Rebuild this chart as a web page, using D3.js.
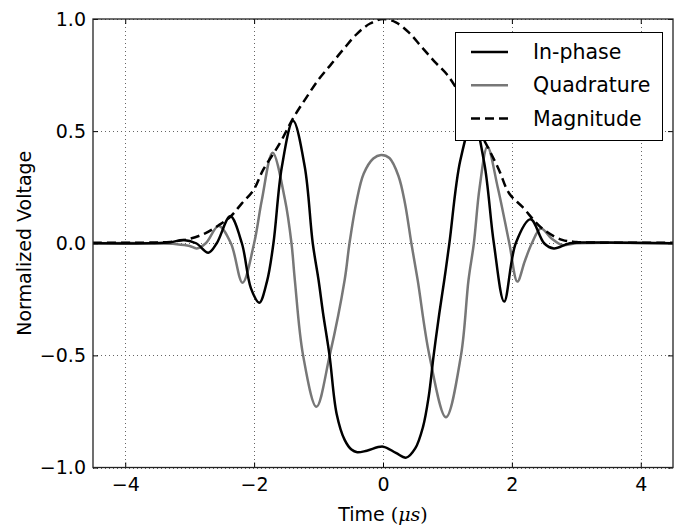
<!DOCTYPE html>
<html>
<head>
<meta charset="utf-8">
<script src="https://cdn.jsdelivr.net/npm/d3@7"></script>
<style>
  body { margin: 0; background: #fff; }
  text { font-family: "DejaVu Sans", sans-serif; fill: #000; }
</style>
</head>
<body>
<div id="chart"></div>
<script>
// values: [time in us, normalized voltage]
var inPhase = [[-4.5,0],[-3.6,0],[-3.3,0.004],[-3.1,0.015],[-2.9,0],[-2.71,-0.042],[-2.58,0],
  [-2.37,0.12],[-2.19,0],[-2.05,-0.2],[-1.92,-0.265],[-1.8,-0.17],[-1.7,0],[-1.57,0.34],
  [-1.395,0.546],[-1.214,0.341],[-1.09,0],[-1.0,-0.164],[-0.93,-0.312],[-0.83,-0.5],
  [-0.72,-0.76],[-0.595,-0.877],[-0.49,-0.92],[-0.4,-0.932],[-0.25,-0.925],[0,-0.907],
  [0.2,-0.935],[0.36,-0.956],[0.5,-0.915],[0.62,-0.82],[0.709,-0.684],[0.786,-0.5],
  [0.874,-0.312],[0.951,-0.164],[1.03,0],[1.2,0.37],[1.4,0.55],[1.57,0.36],[1.72,0],
  [1.88,-0.26],[2.06,0],[2.29,0.107],[2.5,0],[2.65,-0.023],[2.9,0],[3.2,0.003],[4.5,0]];

var quadrature = [[-4.5,0],[-3.6,0],[-3.2,-0.004],[-3.0,-0.012],[-2.89,-0.023],[-2.75,0],
  [-2.55,0.077],[-2.36,0],[-2.18,-0.176],[-2.0,0],[-1.88,0.193],[-1.713,0.404],[-1.52,0.193],
  [-1.42,0],[-1.368,-0.164],[-1.24,-0.5],[-1.033,-0.729],[-0.827,-0.5],[-0.595,-0.164],
  [-0.52,0],[-0.415,0.18],[-0.3,0.31],[-0.15,0.378],[-0.03,0.394],[0.1,0.38],[0.24,0.3],
  [0.34,0.18],[0.44,0],[0.538,-0.164],[0.72,-0.5],[0.977,-0.776],[1.21,-0.5],[1.327,-0.164],
  [1.41,0],[1.5,0.25],[1.62,0.43],[1.78,0.25],[1.96,0],[2.085,-0.171],[2.2,-0.08],[2.31,0],
  [2.45,0.066],[2.62,0.02],[2.78,-0.008],[3.0,0],[4.5,0]];

var magnitude = [[-4.5,0.002],[-3.6,0.003],[-3.3,0.006],[-3.0,0.02],[-2.76,0.044],[-2.55,0.08],
  [-2.37,0.118],[-2.19,0.178],[-2.01,0.237],[-1.86,0.327],[-1.6,0.446],[-1.4,0.555],
  [-1.2,0.645],[-1.0,0.73],[-0.8,0.8],[-0.6,0.87],[-0.4,0.935],[-0.2,0.98],[0,1.0],
  [0.2,0.985],[0.4,0.94],[0.6,0.875],[0.8,0.81],[1.0,0.75],[1.2,0.66],[1.4,0.55],
  [1.65,0.415],[1.8,0.327],[1.956,0.223],[2.16,0.163],[2.47,0.066],[2.78,0.015],
  [3.0,0.006],[3.3,0.003],[4.5,0.002]];

var seriesNames = ["In-phase", "Quadrature", "Magnitude"];
var xTicks = [-4, -2, 0, 2, 4];
var yTicks = [-1.0, -0.5, 0.0, 0.5, 1.0];

(function() {
  var width = 674, height = 527;
  var plotL = 93, plotR = 673, plotT = 19, plotB = 467.5;

  var svg = d3.select("#chart").append("svg")
    .attr("width", width)
    .attr("height", height);

  var x = d3.scaleLinear().domain([-4.5, 4.5]).range([plotL, plotR]);
  var y = d3.scaleLinear().domain([-1, 1]).range([plotB, plotT]);

  svg.append("clipPath").attr("id", "plotclip")
    .append("rect")
    .attr("x", plotL).attr("y", plotT)
    .attr("width", plotR - plotL).attr("height", plotB - plotT);

  // dotted grid
  var grid = svg.append("g").attr("stroke", "#666").attr("stroke-width", 1)
    .attr("stroke-dasharray", "1,3");
  xTicks.forEach(function(t) {
    grid.append("line")
      .attr("x1", Math.round(x(t)) + 0.5).attr("x2", Math.round(x(t)) + 0.5)
      .attr("y1", plotT).attr("y2", plotB);
  });
  yTicks.forEach(function(t) {
    grid.append("line")
      .attr("x1", plotL).attr("x2", plotR)
      .attr("y1", Math.round(y(t)) + 0.5).attr("y2", Math.round(y(t)) + 0.5);
  });

  var line = d3.line()
    .x(function(d) { return x(d[0]); })
    .y(function(d) { return y(d[1]); })
    .curve(d3.curveCatmullRom.alpha(0.5));

  var curves = svg.append("g").attr("clip-path", "url(#plotclip)").attr("fill", "none");

  curves.append("path").datum(quadrature)
    .attr("d", line).attr("stroke", "#777").attr("stroke-width", 2.5);
  curves.append("path").datum(inPhase)
    .attr("d", line).attr("stroke", "#000").attr("stroke-width", 2.5);
  curves.append("path").datum(magnitude)
    .attr("d", line).attr("stroke", "#000").attr("stroke-width", 2.5)
    .attr("stroke-dasharray", "9,5");

  // axes: inward ticks on all four sides
  var tickLen = 5;
  var xAxisB = d3.axisBottom(x).tickValues(xTicks).tickSizeInner(-tickLen).tickSizeOuter(0)
    .tickPadding(10).tickFormat(function(d) { return d < 0 ? "\u2212" + Math.abs(d) : d; });
  var xAxisT = d3.axisTop(x).tickValues(xTicks).tickSizeInner(-tickLen).tickSizeOuter(0)
    .tickFormat("");
  var yAxisL = d3.axisLeft(y).tickValues(yTicks).tickSizeInner(-tickLen).tickSizeOuter(0)
    .tickPadding(7).tickFormat(function(d) {
      var s = Math.abs(d).toFixed(1);
      return d < 0 ? "\u2212" + s : s;
    });
  var yAxisR = d3.axisRight(y).tickValues(yTicks).tickSizeInner(-tickLen).tickSizeOuter(0)
    .tickFormat("");

  function styleAxis(g) {
    g.select(".domain").remove();
    g.selectAll(".tick line").attr("stroke", "#000");
    g.selectAll("text").attr("font-size", 19).attr("font-family", "DejaVu Sans").attr("fill", "#000");
  }

  svg.append("g").attr("transform", "translate(0," + plotB + ")").call(xAxisB).call(styleAxis);
  svg.append("g").attr("transform", "translate(0," + plotT + ")").call(xAxisT).call(styleAxis);
  svg.append("g").attr("transform", "translate(" + plotL + ",0)").call(yAxisL).call(styleAxis);
  svg.append("g").attr("transform", "translate(" + plotR + ",0)").call(yAxisR).call(styleAxis);

  // frame
  svg.append("rect")
    .attr("x", plotL).attr("y", plotT)
    .attr("width", plotR - plotL).attr("height", plotB - plotT)
    .attr("fill", "none").attr("stroke", "#222").attr("stroke-width", 1.3);

  // axis labels
  var xl = svg.append("text")
    .attr("x", (plotL + plotR) / 2).attr("y", 521)
    .attr("text-anchor", "middle").attr("font-size", 19);
  xl.append("tspan").text("Time ");
  xl.append("tspan").attr("font-family", "DejaVu Serif").text("(");
  xl.append("tspan").attr("font-family", "DejaVu Serif").attr("font-style", "italic").text("\u03bcs");
  xl.append("tspan").attr("font-family", "DejaVu Serif").text(")");

  svg.append("text")
    .attr("transform", "translate(31," + ((plotT + plotB) / 2) + ") rotate(-90)")
    .attr("text-anchor", "middle").attr("font-size", 19)
    .text("Normalized Voltage");

  // legend
  var legend = svg.append("g");
  legend.append("rect")
    .attr("x", 455.5).attr("y", 32.5).attr("width", 207).attr("height", 108)
    .attr("fill", "#fff").attr("stroke", "#000").attr("stroke-width", 1);

  var legendStyles = [
    { stroke: "#000", dash: null },
    { stroke: "#777", dash: null },
    { stroke: "#000", dash: "9,5" }
  ];
  seriesNames.forEach(function(name, i) {
    var ly = 52 + i * 33.3;
    legend.append("line")
      .attr("x1", 471).attr("x2", 508).attr("y1", ly).attr("y2", ly)
      .attr("stroke", legendStyles[i].stroke).attr("stroke-width", 2.5)
      .attr("stroke-dasharray", legendStyles[i].dash);
    legend.append("text")
      .attr("x", 533).attr("y", ly + 7)
      .attr("font-size", 20.5).text(name);
  });
})();
</script>
</body>
</html>
